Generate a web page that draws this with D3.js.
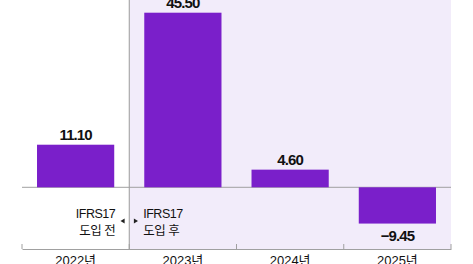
<!DOCTYPE html>
<html>
<head>
<meta charset="utf-8">
<script src="https://cdn.jsdelivr.net/npm/d3@7"></script>
<style>
  body { margin: 0; background: #fff; }
  text { font-family: "Liberation Sans", Arial, "Noto Sans CJK KR", sans-serif; }
</style>
</head>
<body>
<div id="chart"></div>
<script>
let years = ['2022년', '2023년', '2024년', '2025년']
let values = [11.10, 45.50, 4.60, -9.45]
let valueLabels = ['11.10', '45.50', '4.60', '−9.45']

let width = 473
let height = 264

let svg = d3.select('#chart')
  .append('svg')
  .attr('width', width)
  .attr('height', height)

let x = d3.scaleBand()
  .domain(years)
  .range([22, 451])
  .paddingInner(0.28)
  .paddingOuter(0.14)

// zero at y=187.3, 3.84px per unit
let y = d3.scaleLinear()
  .domain([-16, 45.5])
  .range([248.7, 12.7])

let axisY = 249

// shaded area after IFRS17
let splitX = x('2023년') - x.step() * x.paddingInner() / 2
svg.append('rect')
  .attr('x', splitX)
  .attr('y', 0)
  .attr('width', 451 - splitX)
  .attr('height', axisY)
  .attr('fill', '#f2ecfa')

svg.append('line')
  .attr('x1', splitX).attr('x2', splitX)
  .attr('y1', 0).attr('y2', axisY)
  .attr('stroke', '#9a9a9a')
  .attr('stroke-width', 1)

// zero line
svg.append('line')
  .attr('x1', 22).attr('x2', 451)
  .attr('y1', y(0)).attr('y2', y(0))
  .attr('stroke', '#a0a0a0')
  .attr('stroke-width', 1)

svg.selectAll('.bar')
  .data(values)
  .enter()
  .append('rect')
  .attr('class', 'bar')
  .attr('x', (d, i) => x(years[i]))
  .attr('width', x.bandwidth())
  .attr('y', d => y(Math.max(0, d)))
  .attr('height', d => Math.abs(y(d) - y(0)))
  .attr('fill', '#7a1fca')

svg.selectAll('.val')
  .data(values)
  .enter()
  .append('text')
  .attr('class', 'val')
  .attr('x', (d, i) => x(years[i]) + x.bandwidth() / 2)
  .attr('y', d => d >= 0 ? y(d) - 5 : y(d) + 17)
  .attr('text-anchor', 'middle')
  .attr('font-size', 15)
  .attr('font-weight', 'bold')
  .attr('letter-spacing', -0.9)
  .attr('fill', '#111')
  .text((d, i) => valueLabels[i])

// bottom axis
let axis = svg.append('g')
  .attr('transform', 'translate(0,' + axisY + ')')
  .call(d3.axisBottom(x).tickSize(0).tickPadding(7))
axis.select('.domain').attr('stroke', '#a0a0a0')
axis.selectAll('text')
  .attr('font-size', 13)
  .attr('fill', '#111')
  .attr('font-family', '"Liberation Sans", Arial, "Noto Sans CJK KR", sans-serif')

let tickXs = [22].concat(years.map(d => x(d) + x.bandwidth() + x.step() * x.paddingInner() / 2))
tickXs[tickXs.length - 1] = 451
svg.selectAll('.tick-up')
  .data(tickXs)
  .enter()
  .append('line')
  .attr('x1', d => d).attr('x2', d => d)
  .attr('y1', axisY - 5).attr('y2', axisY)
  .attr('stroke', '#a0a0a0')

// IFRS17 annotation
let before = svg.append('text')
  .attr('text-anchor', 'end')
  .attr('font-size', 12.5)
  .attr('fill', '#111')
  .attr('letter-spacing', -0.5)
before.append('tspan').attr('x', splitX - 14).attr('y', 218).text('IFRS17')
before.append('tspan').attr('x', splitX - 14).attr('y', 235).text('도입 전')

let after = svg.append('text')
  .attr('text-anchor', 'start')
  .attr('font-size', 12.5)
  .attr('fill', '#111')
  .attr('letter-spacing', -0.5)
after.append('tspan').attr('x', splitX + 14).attr('y', 218).text('IFRS17')
after.append('tspan').attr('x', splitX + 14).attr('y', 235).text('도입 후')

svg.append('path')
  .attr('d', d3.symbol(d3.symbolTriangle, 10)())
  .attr('transform', 'translate(' + (splitX - 6) + ',221) rotate(-90)')
  .attr('fill', '#222')
svg.append('path')
  .attr('d', d3.symbol(d3.symbolTriangle, 10)())
  .attr('transform', 'translate(' + (splitX + 6) + ',221) rotate(90)')
  .attr('fill', '#222')
</script>
</body>
</html>
